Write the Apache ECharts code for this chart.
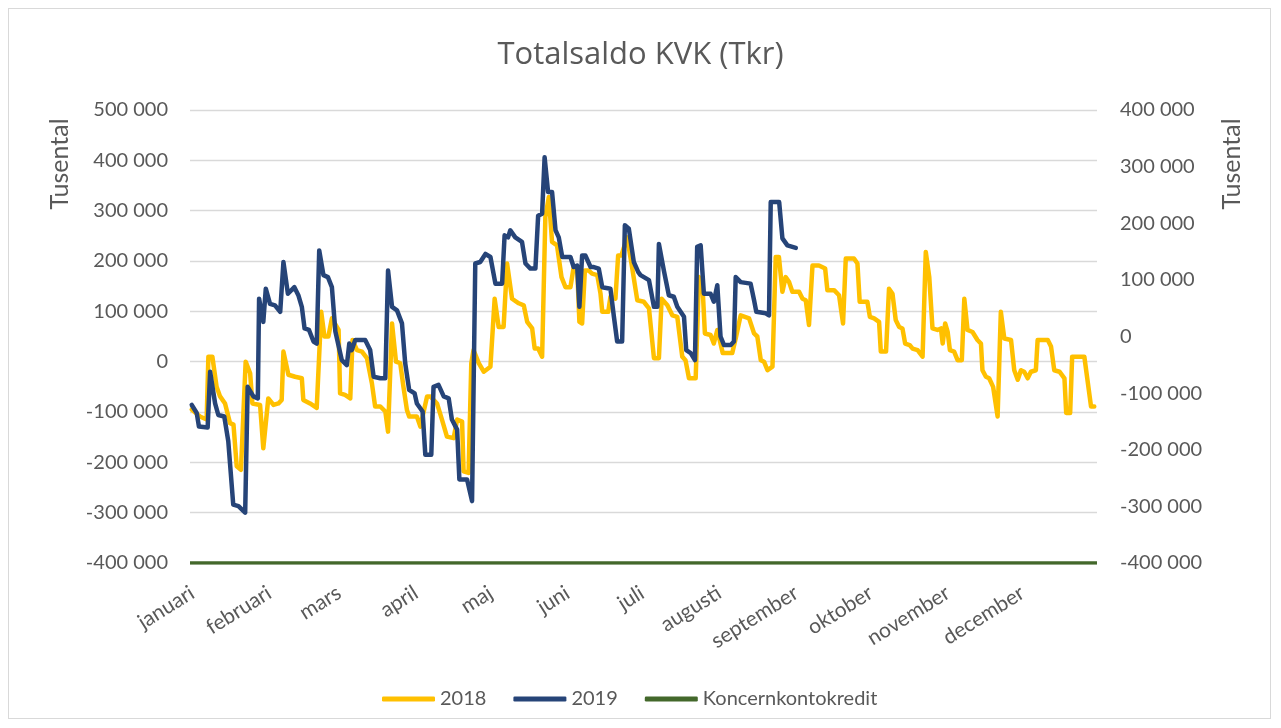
<!DOCTYPE html>
<html>
<head>
<meta charset="utf-8">
<title>Totalsaldo KVK</title>
<script src="https://cdn.jsdelivr.net/npm/echarts@6.0.0/dist/echarts.min.js"></script>
<style>
  html, body { margin: 0; padding: 0; background: #fff; }
  #wrap { position: relative; width: 1281px; height: 728px; }
  #frame { position: absolute; left: 8px; top: 8px; width: 1263px; height: 711px; border: 1px solid #d9d9d9; box-sizing: border-box; }
  #main { position: absolute; left: 0; top: 0; width: 1281px; height: 728px; }
</style>
</head>
<body>
<div id="wrap">
  <div id="frame"></div>
  <div id="main"></div>
</div>
<script>
// månadsnamn och dag-i-året där varje månad börjar
var monthNames = ['januari', 'februari', 'mars', 'april', 'maj', 'juni', 'juli', 'augusti', 'september', 'oktober', 'november', 'december'];
var monthStarts = [0, 31, 59, 90, 120, 151, 181, 212, 243, 273, 304, 334];

// 2018 (dag i året, saldo)
var days2018 = [0.7,4.0,6.7,7.4,9.0,10.7,12.1,14.1,16.1,17.5,
  18.8,20.5,22.4,24.2,25.1,28.2,29.5,31.5,33.6,35.6,
  36.9,37.6,39.6,42.3,45.0,45.6,48.3,51.0,52.8,54.1,
  55.7,57.1,59.8,60.4,62.4,64.5,65.4,67.2,69.2,71.2,
  73.2,74.5,76.6,78.6,79.7,81.3,82.9,84.6,85.9,87.3,
  88.2,91.3,92.7,95.4,96.7,99.4,101.4,103.4,106.1,107.5,
  109.5,110.1,112.1,113.2,114.1,116.2,118.2,120.9,122.6,124.2,
  126.2,127.6,129.6,132.3,134.3,135.7,137.7,138.7,140.1,141.7,
  143.0,144.4,145.7,147.7,149.5,151.1,153.1,154.4,155.8,156.7,
  157.8,158.9,160.5,161.8,163.9,165.2,165.9,168.3,169.2,171.2,
  172.3,173.6,175.9,177.9,180.0,182.6,184.7,186.7,188.7,189.8,
  192.1,194.1,196.1,198.1,199.4,200.8,203.5,204.8,206.2,207.2,
  209.5,210.8,212.2,214.4,218.2,219.6,221.6,225.0,227.0,228.3,
  229.7,231.0,232.4,234.4,235.7,237.0,238.4,239.7,241.1,242.4,
  245.1,246.5,247.8,249.1,250.5,253.1,255.6,256.5,259.2,261.2,
  262.8,263.9,267.2,268.6,269.5,272.6,273.6,275.3,277.3,278.0,
  280.1,281.3,282.7,284.0,285.4,286.7,287.8,289.6,290.8,292.8,
  294.8,296.1,297.5,298.8,300.8,302.2,302.9,303.9,304.9,305.8,
  307.5,308.9,310.6,311.6,312.9,314.9,316.9,318.3,318.9,320.3,
  321.6,323.2,325.0,326.3,327.7,330.4,331.7,333.1,334.4,335.7,
  337.1,338.4,340.4,341.1,345.2,346.5,347.8,349.9,351.9,352.6,
  354.2,355.0,359.9,362.6,363.9];
var values2018 = [-95000,-109000,-115000,10000,10000,-50000,-69000,-83000,-122000,-125000,
  -208000,-215000,0,-23000,-83000,-86000,-172000,-73000,-86000,-83000,
  -76000,20000,-26000,-30000,-33000,-76000,-83000,-92000,99000,50000,
  50000,86000,63000,-63000,-66000,-73000,43000,23000,20000,7000,
  -43000,-89000,-89000,-99000,-139000,76000,0,-3000,-50000,-96000,
  -109000,-109000,-129000,-69000,-69000,-83000,-115000,-149000,-152000,-115000,
  -119000,-218000,-221000,-3000,23000,-3000,-20000,-10000,125000,69000,
  69000,195000,125000,116000,112000,79000,66000,26000,26000,10000,
  287000,327000,238000,231000,168000,148000,148000,188000,188000,79000,
  76000,181000,181000,175000,172000,135000,99000,99000,129000,125000,
  211000,211000,247000,188000,122000,119000,106000,7000,7000,125000,
  112000,92000,89000,10000,3000,-33000,-33000,168000,155000,56000,
  53000,36000,63000,17000,17000,46000,92000,86000,56000,50000,
  3000,0,-17000,-10000,208000,208000,139000,168000,158000,139000,
  139000,125000,122000,73000,191000,191000,185000,142000,142000,132000,
  76000,205000,205000,195000,119000,119000,89000,86000,79000,20000,
  20000,145000,135000,83000,69000,66000,36000,33000,26000,23000,
  10000,218000,168000,66000,63000,66000,36000,76000,59000,23000,
  20000,3000,3000,125000,63000,59000,43000,36000,-17000,-30000,
  -33000,-50000,-109000,99000,46000,43000,-17000,-36000,-17000,-20000,
  -33000,-20000,-17000,43000,43000,30000,-17000,-20000,-33000,-102000,
  -102000,10000,10000,-89000,-89000];

// 2019 (dag i året, saldo)
var days2019 = [0.7,2.7,3.6,7.1,8.1,10.1,11.4,13.8,15.4,17.4,
  19.5,22.2,23.2,25.5,27.3,27.8,29.5,30.5,32.2,34.2,
  36.3,37.6,39.4,42.0,43.6,45.0,46.1,47.9,49.7,51.0,
  52.0,53.7,55.5,57.1,58.5,61.1,63.1,64.1,65.1,66.5,
  70.5,72.5,73.9,76.6,78.6,79.7,81.3,83.3,85.3,86.6,
  88.2,90.4,91.3,93.6,94.7,97.1,98.0,100.0,102.1,104.1,
  105.4,107.5,108.4,111.5,113.5,114.8,116.8,118.9,120.9,122.9,
  125.6,126.6,128.0,128.9,130.9,133.6,135.0,137.0,139.0,140.1,
  141.7,142.7,144.1,145.7,147.1,148.4,149.8,153.1,154.4,155.8,
  156.7,157.8,159.1,161.2,162.5,164.5,165.9,169.2,170.6,171.9,
  173.9,175.0,176.6,178.6,180.4,181.3,184.7,186.7,188.1,188.7,
  190.7,192.7,194.7,196.1,198.8,199.7,201.5,203.2,204.1,205.5,
  206.8,209.5,210.8,212.2,213.5,214.9,217.6,218.9,219.6,221.6,
  225.6,227.0,227.9,231.7,233.0,233.7,237.1,238.4,240.4,243.8];
var values2019 = [-86000,-102000,-129000,-131000,-20000,-83000,-106000,-109000,-158000,-284000,
  -287000,-300000,-50000,-69000,-73000,125000,79000,145000,115000,112000,
  99000,198000,135000,148000,132000,109000,66000,63000,40000,36000,
  221000,172000,168000,148000,60000,3000,-7000,36000,23000,43000,
  43000,23000,-30000,-33000,-33000,181000,109000,102000,76000,-3000,
  -56000,-63000,-83000,-99000,-185000,-185000,-50000,-46000,-69000,-73000,
  -115000,-135000,-234000,-234000,-277000,195000,198000,214000,208000,155000,
  155000,251000,247000,261000,247000,238000,195000,185000,185000,290000,
  294000,406000,337000,337000,261000,247000,208000,208000,188000,191000,
  109000,211000,211000,188000,188000,185000,148000,145000,89000,40000,
  40000,271000,264000,198000,178000,172000,162000,109000,109000,234000,
  181000,132000,129000,109000,89000,23000,17000,3000,228000,231000,
  135000,135000,119000,152000,50000,33000,33000,40000,168000,158000,
  155000,122000,99000,96000,92000,317000,317000,245000,231000,226000];

// koncernkontokredit, konstant gräns
var kreditDays = [0, 365];
var kreditValues = [-400000, -400000];

function pairs(xs, ys) {
  return xs.map(function (x, i) { return [x, ys[i]]; });
}
function fmt(v) {
  var s = String(Math.abs(v)).replace(/\B(?=(\d{3})+(?!\d))/g, ' ');
  return (v < 0 ? '-' : '') + s;
}

var grey = '#595959';
var font = 'Lato';
// etiketterna slutar strax till höger om månadsstarten, som i Excel
var labelAt = monthStarts.map(function (d) { return d + 1; });

var chart = echarts.init(document.getElementById('main'));
chart.setOption({
  animation: false,
  title: {
    text: 'Totalsaldo KVK (Tkr)',
    left: 'center',
    top: 35,
    textStyle: { fontSize: 31, fontWeight: 'normal', color: grey, fontFamily: 'Open Sans' }
  },
  legend: {
    top: 684,
    left: 377,
    icon: 'roundRect',
    itemWidth: 53,
    itemHeight: 5,
    itemGap: 27,
    textStyle: { fontSize: 20, color: grey, fontFamily: font },
    data: ['2018', '2019', 'Koncernkontokredit']
  },
  grid: { left: 190, right: 184, top: 110, bottom: 165 },
  xAxis: {
    type: 'value',
    min: 0,
    max: 365,
    splitLine: { show: false },
    axisLine: { show: false },
    axisTick: { show: false },
    axisLabel: {
      customValues: labelAt,
      formatter: function (v) { return monthNames[labelAt.indexOf(v)]; },
      rotate: 32,
      margin: 28,
      fontSize: 21,
      color: grey,
      fontFamily: font
    }
  },
  yAxis: [{
    type: 'value',
    min: -400000,
    max: 500000,
    interval: 100000,
    axisLine: { show: false },
    axisTick: { show: false },
    splitLine: { lineStyle: { color: '#d9d9d9', width: 1.3 } },
    axisLabel: { formatter: fmt, margin: 22, fontSize: 20, color: grey, fontFamily: font }
  }, {
    type: 'value',
    position: 'right',
    min: -400000,
    max: 400000,
    interval: 100000,
    axisLine: { show: false },
    axisTick: { show: false },
    splitLine: { show: false },
    axisLabel: { formatter: fmt, margin: 23, fontSize: 20, color: grey, fontFamily: font }
  }],
  graphic: [{
    type: 'text', x: 60, y: 164, rotation: Math.PI / 2,
    style: { text: 'Tusental', fontSize: 25, fill: grey, fontFamily: font, align: 'center', verticalAlign: 'middle' }
  }, {
    type: 'text', x: 1232, y: 164, rotation: Math.PI / 2,
    style: { text: 'Tusental', fontSize: 25, fill: grey, fontFamily: font, align: 'center', verticalAlign: 'middle' }
  }],
  series: [{
    name: '2018',
    type: 'line',
    data: pairs(days2018, values2018),
    symbol: 'none',
    color: '#FFC000',
    lineStyle: { width: 4.5, join: 'round', cap: 'round' },
    z: 2
  }, {
    name: '2019',
    type: 'line',
    data: pairs(days2019, values2019),
    symbol: 'none',
    color: '#264478',
    lineStyle: { width: 4.5, join: 'round', cap: 'round' },
    z: 3
  }, {
    name: 'Koncernkontokredit',
    type: 'line',
    data: pairs(kreditDays, kreditValues),
    symbol: 'none',
    color: '#43682B',
    lineStyle: { width: 3.5 },
    z: 4
  }]
});
</script>
</body>
</html>
